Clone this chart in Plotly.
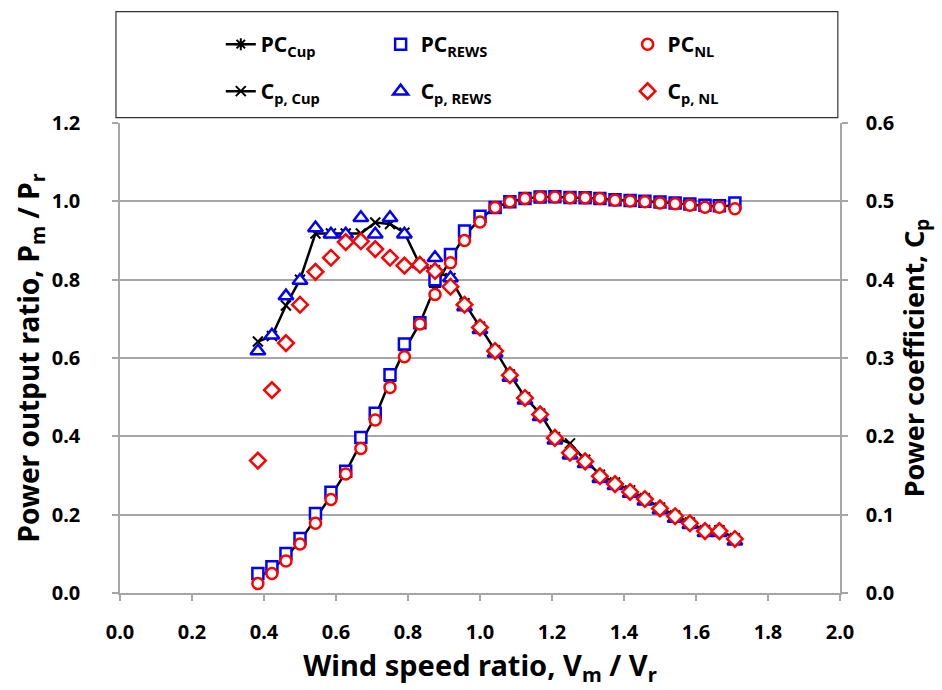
import plotly.graph_objects as go

# Wind speed ratio Vm/Vr
ratio = [0.383, 0.422, 0.461, 0.500, 0.543, 0.586, 0.627, 0.669, 0.709, 0.750,
         0.790, 0.833, 0.875, 0.918, 0.957, 1.000, 1.042, 1.083, 1.125, 1.167,
         1.208, 1.250, 1.292, 1.333, 1.375, 1.417, 1.458, 1.500, 1.542, 1.583,
         1.625, 1.665, 1.708]

# Power output ratio Pm/Pr
pc_cup = [0.040, 0.060, 0.092, 0.132, 0.190, 0.248, 0.308, 0.383, 0.450, 0.541,
          0.620, 0.689, 0.781, 0.853, 0.912, 0.955, 0.984, 0.999, 1.007, 1.011,
          1.011, 1.010, 1.009, 1.007, 1.004, 1.002, 0.999, 0.997, 0.995, 0.991,
          0.988, 0.987, 0.990]
pc_rews = [0.050, 0.067, 0.101, 0.139, 0.203, 0.257, 0.311, 0.397, 0.459, 0.557,
           0.636, 0.690, 0.800, 0.864, 0.924, 0.962, 0.984, 0.999, 1.007, 1.011,
           1.012, 1.010, 1.009, 1.007, 1.004, 1.002, 1.000, 0.998, 0.996, 0.993,
           0.990, 0.989, 0.996]
pc_nl = [0.024, 0.050, 0.082, 0.125, 0.178, 0.239, 0.304, 0.369, 0.442, 0.525,
         0.603, 0.687, 0.762, 0.843, 0.900, 0.947, 0.984, 0.999, 1.007, 1.011,
         1.011, 1.009, 1.009, 1.007, 1.003, 1.001, 0.999, 0.996, 0.994, 0.990,
         0.985, 0.985, 0.981]

# Power coefficient Cp
cp_cup = [0.321, 0.328, 0.367, 0.400, 0.459, 0.459, 0.459, 0.459, 0.473, 0.471,
          0.460, 0.419, 0.412, 0.402, 0.370, 0.340, 0.310, 0.279, 0.250, 0.229,
          0.199, 0.191, 0.170, 0.151, 0.141, 0.131, 0.121, 0.109, 0.099, 0.090,
          0.080, 0.080, 0.070]
cp_rews = [0.309, 0.329, 0.379, 0.399, 0.466, 0.458, 0.458, 0.479, 0.458, 0.479,
           0.458, 0.420, 0.428, 0.402, 0.365, 0.336, 0.306, 0.275, 0.246, 0.225,
           0.195, 0.176, 0.165, 0.146, 0.137, 0.127, 0.117, 0.106, 0.095, 0.087,
           0.077, 0.077, 0.066]
cp_nl = [0.169, 0.259, 0.319, 0.368, 0.410, 0.428, 0.448, 0.449, 0.439, 0.428,
         0.418, 0.419, 0.411, 0.391, 0.368, 0.339, 0.309, 0.278, 0.249, 0.228,
         0.198, 0.179, 0.168, 0.149, 0.139, 0.129, 0.120, 0.108, 0.098, 0.089,
         0.079, 0.079, 0.069]

x_ticks = [0.0, 0.2, 0.4, 0.6, 0.8, 1.0, 1.2, 1.4, 1.6, 1.8, 2.0]

FONT = "Noto Sans"
BLUE = "#0000ff"
RED = "#ff0000"
GRID = "#a6a6a6"

fig = go.Figure()

# Cup (lines with markers)
fig.add_trace(go.Scatter(
    x=ratio, y=pc_cup, mode="lines+markers", name="PC<sub>Cup</sub>",
    line=dict(color="black", width=2.5),
    marker=dict(symbol="asterisk-open", size=10, color="black",
                line=dict(color="black", width=2)),
    legend="legend"))
fig.add_trace(go.Scatter(
    x=ratio, y=cp_cup, mode="lines+markers", name="C<sub>p, Cup</sub>",
    yaxis="y2",
    line=dict(color="black", width=2.5),
    marker=dict(symbol="x-thin-open", size=10, color="black",
                line=dict(color="black", width=2)),
    legend="legend2"))

# REWS
fig.add_trace(go.Scatter(
    x=ratio, y=pc_rews, mode="markers", name="PC<sub>REWS</sub>",
    marker=dict(symbol="square", size=11, color="white",
                line=dict(color=BLUE, width=2.5)),
    legend="legend3"))
fig.add_trace(go.Scatter(
    x=ratio, y=cp_rews, mode="markers", name="C<sub>p, REWS</sub>",
    yaxis="y2",
    marker=dict(symbol="triangle-up", size=13, color="white",
                line=dict(color=BLUE, width=2.5)),
    legend="legend4"))

# NL
fig.add_trace(go.Scatter(
    x=ratio, y=pc_nl, mode="markers", name="PC<sub>NL</sub>",
    marker=dict(symbol="circle", size=11, color="white",
                line=dict(color=RED, width=2.5)),
    legend="legend5"))
fig.add_trace(go.Scatter(
    x=ratio, y=cp_nl, mode="markers", name="C<sub>p, NL</sub>",
    yaxis="y2",
    marker=dict(symbol="diamond", size=12, color="white",
                line=dict(color=RED, width=2.5)),
    legend="legend6"))

legend_font = dict(family=FONT, size=21, color="black", weight="bold")


def leg(x, y):
    return dict(x=x, y=y, xanchor="left", yanchor="middle",
                xref="paper", yref="paper",
                bgcolor="rgba(0,0,0,0)", borderwidth=0, font=legend_font)


row1, row2 = 1.167, 1.067
col1, col2, col3 = 0.140, 0.362, 0.705

fig.update_layout(
    width=942, height=690,
    margin=dict(l=120, r=102, t=123, b=97),
    paper_bgcolor="white", plot_bgcolor="white",
    font=dict(family=FONT, color="black"),
    showlegend=True,
    legend=leg(col1, row1),
    legend2=leg(col1, row2),
    legend3=leg(col2, row1),
    legend4=leg(col2, row2),
    legend5=leg(col3, row1),
    legend6=leg(col3, row2),
    xaxis=dict(
        range=[0, 2.0], tickmode="array", tickvals=x_ticks,
        tickformat=".1f", showgrid=False, zeroline=False,
        showline=True, linecolor=GRID, linewidth=1.5,
        ticks="outside", ticklen=6, tickwidth=1.5, tickcolor=GRID,
        ticklabelstandoff=14,
        tickfont=dict(family=FONT, size=20, color="black", weight="bold"),
        title=dict(text="<b>Wind speed ratio, V<sub>m</sub> / V<sub>r</sub></b>",
                   font=dict(family=FONT, size=29, color="black"),
                   standoff=8),
    ),
    yaxis=dict(
        range=[0, 1.2], dtick=0.2, tickformat=".1f",
        showgrid=True, gridcolor=GRID, gridwidth=1.5, zeroline=False,
        showline=True, linecolor=GRID, linewidth=1.5,
        ticks="outside", ticklen=6, tickwidth=1.5, tickcolor=GRID,
        ticklabelstandoff=28,
        tickfont=dict(family=FONT, size=20, color="black", weight="bold"),
        title=dict(text="<b>Power output ratio, P<sub>m</sub> / P<sub>r</sub></b>",
                   font=dict(family=FONT, size=28, color="black"),
                   standoff=4),
    ),
    yaxis2=dict(
        range=[0, 0.6], dtick=0.1, tickformat=".1f", overlaying="y",
        side="right", showgrid=False, zeroline=False,
        showline=True, linecolor=GRID, linewidth=1.5,
        ticks="outside", ticklen=6, tickwidth=1.5, tickcolor=GRID,
        ticklabelstandoff=14,
        tickfont=dict(family=FONT, size=20, color="black", weight="bold"),
        title=dict(text="<b>Power coefficient, C<sub>p</sub></b>",
                   font=dict(family=FONT, size=27, color="black"),
                   standoff=2),
    ),
    shapes=[dict(type="rect", xref="paper", yref="paper",
                 x0=-0.0056, x1=0.997, y0=1.0113, y1=1.2371,
                 line=dict(color="#333333", width=1.2),
                 fillcolor="rgba(0,0,0,0)")],
)

fig.write_html("out.html")
